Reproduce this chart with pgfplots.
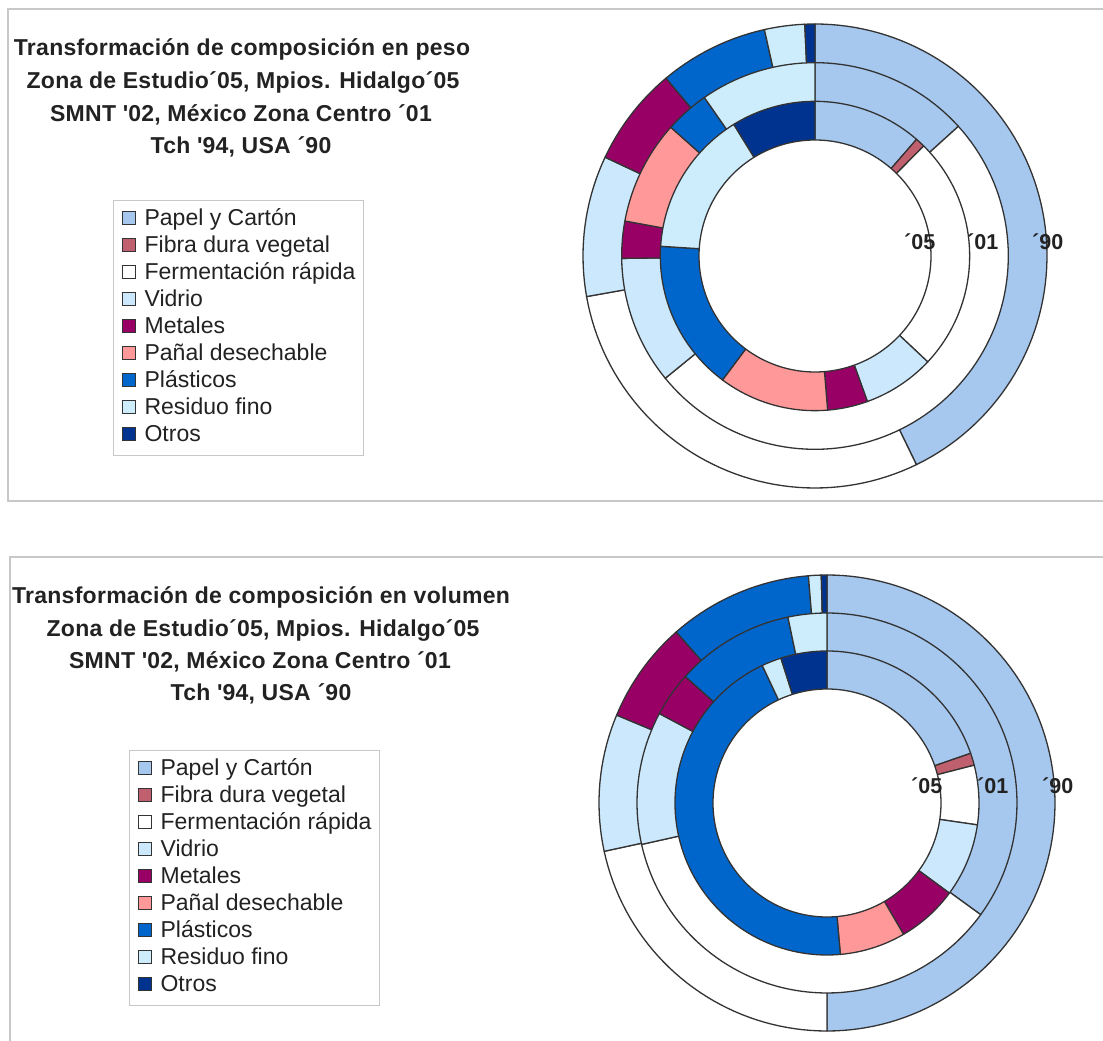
\documentclass[border=0pt]{standalone}
\usepackage{pgfplots}
\pgfplotsset{compat=1.18}
\usepackage{pgfplotstable}
\usepgfplotslibrary{polar}
\usepackage{fontspec}
\setmainfont{Liberation Sans}
\newfontfamily\titlefont[LetterSpace=1.2]{Liberation Sans}

\definecolor{c0}{HTML}{A6C8EE} % Papel y Carton
\definecolor{c1}{HTML}{C0606E} % Fibra dura vegetal
\definecolor{c2}{HTML}{FFFFFF} % Fermentacion rapida
\definecolor{c3}{HTML}{CCE8FC} % Vidrio
\definecolor{c4}{HTML}{990066} % Metales
\definecolor{c5}{HTML}{FF9999} % Panal desechable
\definecolor{c6}{HTML}{0066CC} % Plasticos
\definecolor{c7}{HTML}{CDEDFC} % Residuo fino
\definecolor{c8}{HTML}{00338F} % Otros
\definecolor{ringline}{HTML}{333333}
\definecolor{txt}{HTML}{222222}
\definecolor{framec}{HTML}{C8C8C8}

% percentages per ring ('05 inner, '01 middle, '90 outer), categories in legend order
\pgfplotstableread{
cat  r05   r01   r90
1    11.4  13.3  42.8
2    1.0   0.0   0.0
3    24.6  50.8  29.4
4    7.5   10.7  9.8
5    4.2   3.1   6.9
6    11.5  8.7   0.0
7    15.8  3.7   7.6
8    15.2  9.7   2.8
9    8.8   0.0   0.7
}\peso

\pgfplotstableread{
cat  r05   r01   r90
1    19.7  35.0  50.0
2    1.3   0.0   0.0
3    6.3   36.5  21.6
4    7.8   11.3  9.7
5    6.5   3.8   7.2
6    7.0   0.0   0.0
7    44.4  10.1  10.2
8    2.1   3.3   0.9
9    4.9   0.0   0.4
}\volumen

\newcommand\drawring[3]{%
  \def\cum{0}%
  \pgfplotsforeachungrouped \i in {0,...,8}{%
    \pgfplotstablegetelem{\i}{#2}\of{#1}%
    \let\val\pgfplotsretval
    \pgfmathsetmacro\startang{90-3.6*(\cum+\val)}%
    \pgfmathsetmacro\endang{90-3.6*\cum}%
    \pgfmathsetmacro\cum{\cum+\val}%
    \pgfmathtruncatemacro\ns{max(2,\val*1.8+2)}%
    \ifdim\val pt>0.001pt
      \edef\tmp{\noexpand\addplot[forget plot, fill=c\i, draw=ringline, line width=1.3pt, line join=round, domain=\startang:\endang, samples=\ns] {#3} -- (axis cs:0,0) -- cycle;}%
      \tmp
    \fi
  }%
}

\pgfplotsset{
  donut/.style={
    hide axis, clip=false, scale only axis,
    xmin=-270, xmax=90, ymin=0, ymax=1,
    anchor=center,
    legend cell align=left,
    legend image code/.code={\draw[##1, draw=ringline, line width=1pt] (0pt,-4pt) rectangle (13pt,9pt);},
    legend style={draw=framec, line width=1.2pt, font=\fontsize{23}{27}\selectfont\color{txt},
      inner xsep=8pt, inner ysep=6pt, row sep=0pt, column sep=9pt, anchor=north west,
      nodes={inner sep=0pt, text height=19pt, text depth=8pt}},
  },
}

\newcommand\legendall{%
  \addlegendimage{fill=c0}\addlegendentry{Papel y Cartón}
  \addlegendimage{fill=c1}\addlegendentry{Fibra dura vegetal}
  \addlegendimage{fill=c2}\addlegendentry{Fermentación rápida}
  \addlegendimage{fill=c3}\addlegendentry{Vidrio}
  \addlegendimage{fill=c4}\addlegendentry{Metales}
  \addlegendimage{fill=c5}\addlegendentry{Pañal desechable}
  \addlegendimage{fill=c6}\addlegendentry{Plásticos}
  \addlegendimage{fill=c7}\addlegendentry{Residuo fino}
  \addlegendimage{fill=c8}\addlegendentry{Otros}
}

\begin{document}
\begin{tikzpicture}
\useasboundingbox (0pt,0pt) rectangle (1103pt,1041pt);
% panel frames
\draw[framec, line width=1.5pt] (1115pt,1032pt) -- (8pt,1032pt) -- (8pt,540pt) -- (1115pt,540pt);
\draw[framec, line width=1.5pt] (1115pt,484pt) -- (10pt,484pt) -- (10pt,-10pt);

% titles
\begin{scope}[every node/.style={anchor=base, inner sep=0pt, text=txt, font=\titlefont\bfseries\fontsize{23}{26}\selectfont}]
\node at (242pt,985pt) {Transformación de composición en peso};
\node at (243pt,952pt) {Zona de Estudio´05, Mpios. Hidalgo´05};
\node at (241pt,919pt) {SMNT \textquotesingle02, México Zona Centro ´01};
\node at (241pt,887pt) {Tch \textquotesingle94, USA ´90};
\node at (261pt,437pt) {Transformación de composición en volumen};
\node at (263pt,404pt) {Zona de Estudio´05, Mpios. Hidalgo´05};
\node at (260pt,372pt) {SMNT \textquotesingle02, México Zona Centro ´01};
\node at (261pt,340pt) {Tch \textquotesingle94, USA ´90};
\end{scope}

% top donut (peso)
\begin{polaraxis}[donut, at={(815pt,785pt)}, width=464pt, height=464pt,
  legend style={at={(-1.01293,0.62069)}}]
  \legendall
  \drawring{\peso}{r90}{1}
  \drawring{\peso}{r01}{0.8333}
  \drawring{\peso}{r05}{0.6667}
  \addplot[forget plot, fill=white, draw=ringline, line width=1.3pt, domain=-270:90, samples=181] {0.5} -- cycle;
\end{polaraxis}

% bottom donut (volumen)
\begin{polaraxis}[donut, at={(827pt,238pt)}, width=456pt, height=456pt,
  legend style={at={(-1.03070,0.61623)}}]
  \legendall
  \drawring{\volumen}{r90}{1}
  \drawring{\volumen}{r01}{0.8333}
  \drawring{\volumen}{r05}{0.6667}
  \addplot[forget plot, fill=white, draw=ringline, line width=1.3pt, domain=-270:90, samples=181] {0.5} -- cycle;
\end{polaraxis}

% ring labels
\begin{scope}[every node/.style={anchor=base west, inner sep=0pt, text=txt, font=\bfseries\fontsize{21.5}{22}\selectfont}]
\node at (904pt,791pt) {´05};
\node at (967pt,791pt) {´01};
\node at (1032pt,791pt) {´90};
\node at (911pt,247pt) {´05};
\node at (977pt,247pt) {´01};
\node at (1042pt,247pt) {´90};
\end{scope}
\end{tikzpicture}
\end{document}
